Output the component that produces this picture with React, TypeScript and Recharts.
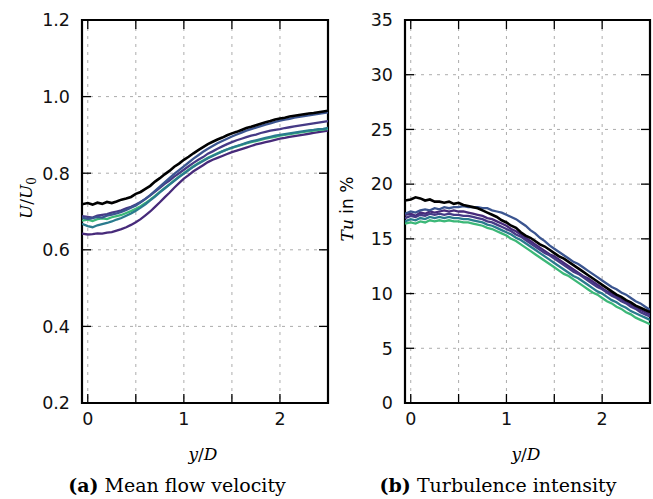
import React from "react";
import { CartesianGrid, Line, LineChart, ReferenceArea, XAxis, YAxis } from "recharts";

// y/D positions of the traverse
const Y_D = [
  -0.06, 0, 0.05, 0.1, 0.15, 0.2, 0.25, 0.3, 0.35, 0.4, 0.45, 0.5, 0.55, 0.6, 0.65, 0.7, 0.75, 0.8, 0.85, 0.9,
  0.95, 1.0, 1.05, 1.1, 1.15, 1.2, 1.25, 1.3, 1.35, 1.4, 1.45, 1.5, 1.55, 1.6, 1.65, 1.7, 1.75, 1.8, 1.85, 1.9,
  1.95, 2.0, 2.05, 2.1, 2.15, 2.2, 2.25, 2.3, 2.35, 2.4, 2.45, 2.5,
];

// (a) mean flow velocity U/U0
const U_BLACK = [
  0.719, 0.722, 0.718, 0.723, 0.72, 0.725, 0.722, 0.726, 0.731, 0.734, 0.738, 0.746, 0.751, 0.759, 0.767, 0.778,
  0.787, 0.797, 0.806, 0.817, 0.825, 0.835, 0.843, 0.852, 0.86, 0.868, 0.876, 0.882, 0.888, 0.893, 0.899, 0.904,
  0.908, 0.913, 0.918, 0.921, 0.925, 0.929, 0.933, 0.936, 0.94, 0.943, 0.945, 0.948, 0.95, 0.952, 0.954, 0.956,
  0.957, 0.959, 0.961, 0.963,
];
const U_P1 = [
  0.642, 0.64, 0.641, 0.643, 0.642, 0.645, 0.646, 0.65, 0.654, 0.659, 0.665, 0.672, 0.68, 0.69, 0.7, 0.712, 0.724,
  0.737, 0.749, 0.762, 0.774, 0.786, 0.795, 0.805, 0.813, 0.821, 0.829, 0.835, 0.84, 0.845, 0.85, 0.855, 0.859,
  0.863, 0.867, 0.871, 0.875, 0.878, 0.881, 0.884, 0.887, 0.89, 0.892, 0.895, 0.897, 0.899, 0.901, 0.903, 0.905,
  0.907, 0.909, 0.911,
];
const U_P2 = [
  0.688, 0.686, 0.684, 0.689, 0.691, 0.693, 0.697, 0.7, 0.703, 0.708, 0.712, 0.718, 0.725, 0.733, 0.742, 0.752,
  0.762, 0.772, 0.781, 0.791, 0.8, 0.809, 0.818, 0.827, 0.835, 0.842, 0.851, 0.857, 0.864, 0.87, 0.876, 0.881,
  0.886, 0.89, 0.894, 0.898, 0.901, 0.905, 0.908, 0.911, 0.913, 0.915, 0.918, 0.92, 0.922, 0.924, 0.926, 0.928,
  0.93, 0.932, 0.934, 0.936,
];
const U_BLUE = [
  0.684, 0.681, 0.683, 0.686, 0.684, 0.689, 0.692, 0.695, 0.699, 0.704, 0.71, 0.716, 0.724, 0.733, 0.743, 0.754,
  0.765, 0.776, 0.787, 0.798, 0.808, 0.818, 0.828, 0.838, 0.847, 0.856, 0.864, 0.871, 0.878, 0.884, 0.89, 0.896,
  0.901, 0.906, 0.911, 0.915, 0.919, 0.923, 0.927, 0.93, 0.934, 0.937, 0.94, 0.942, 0.945, 0.947, 0.949, 0.951,
  0.953, 0.955, 0.957, 0.959,
];
const U_TEAL = [
  0.668, 0.662, 0.659, 0.664, 0.667, 0.67, 0.674, 0.679, 0.683, 0.689, 0.695, 0.702, 0.71, 0.719, 0.729, 0.739,
  0.75, 0.76, 0.77, 0.78, 0.79, 0.799, 0.808, 0.817, 0.825, 0.832, 0.839, 0.845, 0.851, 0.857, 0.862, 0.867,
  0.871, 0.875, 0.879, 0.883, 0.886, 0.889, 0.892, 0.895, 0.898, 0.9, 0.902, 0.904, 0.906, 0.908, 0.91, 0.912,
  0.913, 0.915, 0.916, 0.918,
];
const U_GREEN = [
  0.676, 0.679, 0.675, 0.68, 0.682, 0.68, 0.685, 0.688, 0.691, 0.696, 0.701, 0.707, 0.714, 0.722, 0.731, 0.741,
  0.751, 0.761, 0.771, 0.781, 0.791, 0.8, 0.809, 0.818, 0.826, 0.833, 0.84, 0.846, 0.852, 0.857, 0.862, 0.866,
  0.87, 0.874, 0.878, 0.881, 0.884, 0.887, 0.89, 0.893, 0.895, 0.898, 0.9, 0.902, 0.904, 0.906, 0.908, 0.91,
  0.911, 0.913, 0.914, 0.916,
];

// (b) turbulence intensity Tu in %
const TU_BLACK = [
  18.5, 18.6, 18.8, 18.7, 18.5, 18.6, 18.4, 18.4, 18.3, 18.4, 18.2, 18.3, 18.1, 18.0, 17.9, 17.8, 17.6, 17.4,
  17.2, 17.0, 16.7, 16.5, 16.2, 16.0, 15.6, 15.3, 15.1, 14.8, 14.5, 14.3, 14.0, 13.7, 13.4, 13.2, 12.9, 12.6,
  12.3, 12.0, 11.7, 11.4, 11.1, 10.8, 10.5, 10.2, 9.9, 9.7, 9.4, 9.2, 8.9, 8.7, 8.5, 8.3,
];
const TU_BLUE = [
  17.3, 17.5, 17.4, 17.6, 17.7, 17.6, 17.8, 17.7, 17.9, 17.8, 17.9, 17.9, 18.0, 17.9, 17.9, 17.9, 17.8, 17.8,
  17.6, 17.5, 17.4, 17.2, 17.0, 16.8, 16.5, 16.2, 15.8, 15.5, 15.1, 14.8, 14.4, 14.1, 13.8, 13.5, 13.2, 12.9,
  12.7, 12.4, 12.1, 11.8, 11.5, 11.2, 10.9, 10.6, 10.4, 10.1, 9.9, 9.6, 9.3, 9.1, 8.8, 8.5,
];
const TU_P1 = [
  17.2, 17.3, 17.1, 17.4, 17.3, 17.5, 17.4, 17.5, 17.6, 17.5, 17.6, 17.5, 17.5, 17.4, 17.3, 17.2, 17.1, 16.9,
  16.8, 16.6, 16.4, 16.2, 15.9, 15.7, 15.4, 15.1, 14.8, 14.5, 14.2, 13.9, 13.6, 13.4, 13.1, 12.8, 12.5, 12.2,
  11.9, 11.6, 11.4, 11.1, 10.8, 10.5, 10.2, 10.0, 9.7, 9.5, 9.2, 9.0, 8.7, 8.5, 8.3, 8.1,
];
const TU_P2 = [
  16.9, 17.1, 17.0, 17.2, 17.1, 17.3, 17.2, 17.3, 17.2, 17.3, 17.2, 17.2, 17.1, 17.1, 17.0, 16.9, 16.8, 16.6,
  16.5, 16.3, 16.1, 15.9, 15.7, 15.4, 15.2, 14.9, 14.6, 14.3, 14.0, 13.7, 13.5, 13.2, 12.9, 12.6, 12.3, 12.0,
  11.8, 11.5, 11.2, 10.9, 10.6, 10.4, 10.1, 9.8, 9.6, 9.3, 9.1, 8.8, 8.6, 8.3, 8.1, 7.9,
];
const TU_TEAL = [
  16.6, 16.8, 16.7, 16.9, 16.8, 17.0, 16.9, 17.0, 16.9, 17.0, 16.9, 16.9, 16.8, 16.8, 16.7, 16.6, 16.5, 16.3,
  16.2, 16.0, 15.8, 15.6, 15.4, 15.1, 14.9, 14.6, 14.3, 14.0, 13.7, 13.4, 13.1, 12.8, 12.5, 12.2, 11.9, 11.6,
  11.4, 11.1, 10.8, 10.5, 10.2, 10.0, 9.7, 9.4, 9.2, 8.9, 8.7, 8.4, 8.2, 8.0, 7.8, 7.6,
];
const TU_GREEN = [
  16.4, 16.5, 16.4, 16.6, 16.5, 16.7, 16.6, 16.7, 16.6, 16.7, 16.6, 16.6, 16.5, 16.5, 16.4, 16.3, 16.2, 16.0,
  15.9, 15.7, 15.5, 15.3, 15.0, 14.8, 14.5, 14.2, 13.9, 13.6, 13.3, 13.0, 12.7, 12.4, 12.1, 11.8, 11.6, 11.3,
  11.0, 10.7, 10.4, 10.1, 9.9, 9.6, 9.3, 9.1, 8.8, 8.6, 8.3, 8.1, 7.8, 7.6, 7.4, 7.2,
];

const X_TICKS = [0, 0.5, 1, 1.5, 2];
const U_TICKS = [0.2, 0.4, 0.6, 0.8, 1.0, 1.2];
const TU_TICKS = [0, 5, 10, 15, 20, 25, 30, 35];
const X_DOMAIN: [number, number] = [-0.06, 2.5];

// draw order: coloured runs first, reference (black) on top
const SERIES = [
  { key: "p1", color: "#472a7a" },
  { key: "green", color: "#3cb878" },
  { key: "teal", color: "#2a7b8e" },
  { key: "p2", color: "#463a86" },
  { key: "blue", color: "#3b5590" },
  { key: "black", color: "#000000" },
];

const buildRows = (p1: number[], p2: number[], blue: number[], teal: number[], green: number[], black: number[]) =>
  Y_D.map((x, i) => ({ x, p1: p1[i], p2: p2[i], blue: blue[i], teal: teal[i], green: green[i], black: black[i] }));

const uRows = buildRows(U_P1, U_P2, U_BLUE, U_TEAL, U_GREEN, U_BLACK);
const tuRows = buildRows(TU_P1, TU_P2, TU_BLUE, TU_TEAL, TU_GREEN, TU_BLACK);

const FONT = "DejaVu Sans";
const CHART_H = 440;
const TOP = 20;
const X_AXIS_H = 37;
const Y_AXIS_W = 82;
const TICK_LEN = 9;

function Panel({
  rows,
  width,
  marginRight,
  yDomain,
  yTicks,
  yFormat,
}: {
  rows: Record<string, number>[];
  width: number;
  marginRight: number;
  yDomain: [number, number];
  yTicks: number[];
  yFormat: (v: number) => string;
}) {
  const bottom = CHART_H - X_AXIS_H;
  const left = Y_AXIS_W;
  const right = width - marginRight;

  // inward ticks on both opposite edges, label only on integer positions
  const xTick = (p: any) => {
    const v = p.payload.value as number;
    return (
      <g>
        <line x1={p.x} x2={p.x} y1={bottom} y2={bottom - TICK_LEN} stroke="#000" strokeWidth={1.3} />
        <line x1={p.x} x2={p.x} y1={TOP} y2={TOP + TICK_LEN} stroke="#000" strokeWidth={1.3} />
        {Number.isInteger(v) ? (
          <text x={p.x} y={bottom + 9} dy="0.76em" textAnchor="middle" fontFamily={FONT} fontSize={17.5} fill="#111">
            {String(v)}
          </text>
        ) : null}
      </g>
    );
  };
  const yTick = (p: any) => {
    const v = p.payload.value as number;
    return (
      <g>
        <line x1={left} x2={left + TICK_LEN} y1={p.y} y2={p.y} stroke="#000" strokeWidth={1.3} />
        <line x1={right} x2={right - TICK_LEN} y1={p.y} y2={p.y} stroke="#000" strokeWidth={1.3} />
        <text x={left - 12} y={p.y} dy="0.36em" textAnchor="end" fontFamily={FONT} fontSize={17.5} fill="#111">
          {yFormat(v)}
        </text>
      </g>
    );
  };

  return (
    <LineChart width={width} height={CHART_H} data={rows} margin={{ top: TOP, right: marginRight, bottom: 0, left: 0 }}>
      <CartesianGrid xAxisId="x" yAxisId="y" stroke="#acacac" strokeDasharray="3 5" strokeWidth={1} />
      <XAxis
        xAxisId="x"
        dataKey="x"
        type="number"
        domain={X_DOMAIN}
        allowDataOverflow
        ticks={X_TICKS}
        tickLine={false}
        axisLine={false}
        tickSize={0}
        height={X_AXIS_H}
        tick={xTick}
      />
      <YAxis
        yAxisId="y"
        type="number"
        domain={yDomain}
        allowDataOverflow
        ticks={yTicks}
        tickLine={false}
        axisLine={false}
        tickSize={0}
        width={Y_AXIS_W}
        tick={yTick}
      />
      {SERIES.map((s) => (
        <Line
          key={s.key}
          xAxisId="x"
          yAxisId="y"
          dataKey={s.key}
          type="linear"
          stroke={s.color}
          strokeWidth={s.key === "black" ? 2.6 : 2.3}
          dot={false}
          isAnimationActive={false}
        />
      ))}
      <ReferenceArea
        xAxisId="x"
        yAxisId="y"
        x1={X_DOMAIN[0]}
        x2={X_DOMAIN[1]}
        y1={yDomain[0]}
        y2={yDomain[1]}
        fill="none"
        fillOpacity={0}
        stroke="#000"
        strokeWidth={2.2}
        ifOverflow="visible"
      />
    </LineChart>
  );
}

export default function App() {
  const serif = "DejaVu Serif";
  return (
    <div style={{ position: "absolute", left: 0, top: 0, width: 653, height: 499, background: "#fff" }}>
      <div style={{ position: "absolute", left: 0, top: 0 }}>
        <Panel rows={uRows} width={340} marginRight={12} yDomain={[0.2, 1.2]} yTicks={U_TICKS}
          yFormat={(v) => v.toFixed(1)} />
      </div>
      <div style={{ position: "absolute", left: 323, top: 0 }}>
        <Panel rows={tuRows} width={330} marginRight={3} yDomain={[0, 35]} yTicks={TU_TICKS}
          yFormat={(v) => String(v)} />
      </div>
      <svg width={653} height={499} style={{ position: "absolute", left: 0, top: 0, pointerEvents: "none" }}>
        <text x={32} y={198} transform="rotate(-90 32 198)" textAnchor="middle" fontFamily={serif} fontSize={17}>
          <tspan fontStyle="italic">U</tspan>/<tspan fontStyle="italic">U</tspan>
          <tspan fontSize={12} dy={4}>0</tspan>
        </text>
        <text x={353} y={209} transform="rotate(-90 353 209)" textAnchor="middle" fontSize={17}>
          <tspan fontFamily={serif} fontStyle="italic">Tu</tspan>
          <tspan fontFamily={FONT}> in %</tspan>
        </text>
        <text x={203} y={460} textAnchor="middle" fontFamily={serif} fontSize={17}>
          <tspan fontStyle="italic">y</tspan>/<tspan fontStyle="italic">D</tspan>
        </text>
        <text x={526} y={460} textAnchor="middle" fontFamily={serif} fontSize={17}>
          <tspan fontStyle="italic">y</tspan>/<tspan fontStyle="italic">D</tspan>
        </text>
        <text x={177} y={492} textAnchor="middle" fontFamily={serif} fontSize={19}>
          <tspan fontWeight="bold">(a)</tspan> Mean flow velocity
        </text>
        <text x={498} y={492} textAnchor="middle" fontFamily={serif} fontSize={19}>
          <tspan fontWeight="bold">(b)</tspan> Turbulence intensity
        </text>
      </svg>
    </div>
  );
}
